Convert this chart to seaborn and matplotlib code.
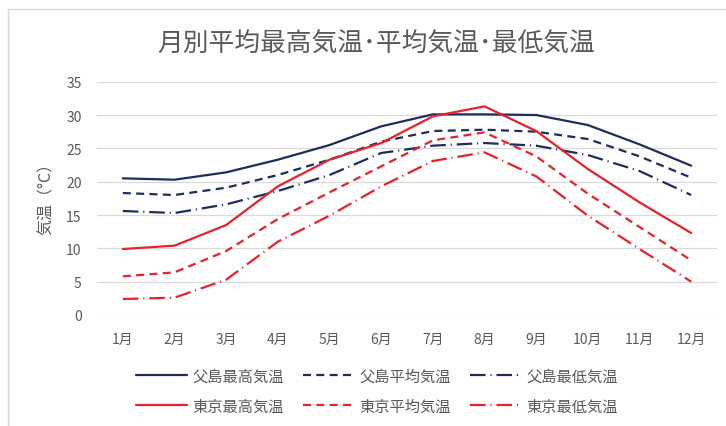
import pandas as pd
import matplotlib
matplotlib.use('Agg')
import matplotlib.pyplot as plt
from matplotlib.patches import Rectangle
import seaborn as sns

# データ
meses = ['1月', '2月', '3月', '4月', '5月', '6月', '7月', '8月', '9月', '10月', '11月', '12月']

chichijima_max = [20.5, 20.3, 21.4, 23.3, 25.5, 28.3, 30.1, 30.1, 30.0, 28.5, 25.6, 22.4]
chichijima_avg = [18.3, 18.0, 19.1, 21.0, 23.3, 26.0, 27.6, 27.8, 27.5, 26.4, 23.8, 20.6]
chichijima_min = [15.6, 15.3, 16.6, 18.6, 21.0, 24.3, 25.4, 25.8, 25.4, 24.0, 21.6, 18.0]

tokyo_max = [9.9, 10.4, 13.5, 19.3, 23.3, 25.8, 29.8, 31.3, 27.6, 21.9, 16.9, 12.3]
tokyo_avg = [5.8, 6.4, 9.6, 14.4, 18.4, 22.3, 26.2, 27.4, 23.8, 18.2, 13.2, 8.2]
tokyo_min = [2.4, 2.6, 5.3, 11.0, 14.9, 19.3, 23.1, 24.4, 20.8, 14.9, 9.9, 5.0]

series = {
    '父島最高気温': chichijima_max,
    '父島平均気温': chichijima_avg,
    '父島最低気温': chichijima_min,
    '東京最高気温': tokyo_max,
    '東京平均気温': tokyo_avg,
    '東京最低気温': tokyo_min,
}

navy = '#1f2d5c'
red = '#e8222a'
cinza = '#595959'

estilos = {
    '父島最高気温': (navy, '-'),
    '父島平均気温': (navy, (0, (3.6, 2.4))),
    '父島最低気温': (navy, (0, (7, 2.2, 0.5, 2.2))),
    '東京最高気温': (red, '-'),
    '東京平均気温': (red, (0, (3.6, 2.4))),
    '東京最低気温': (red, (0, (7, 2.2, 0.5, 2.2))),
}

sns.set_theme(style='white')
plt.rcParams['font.family'] = ['Noto Sans CJK JP', 'DejaVu Sans']

fig = plt.figure(figsize=(7.26, 4.27), dpi=100)
ax = fig.add_axes([97 / 726, 111 / 427, 620 / 726, 233.3 / 427])

x = list(range(len(meses)))
for nome, valores in series.items():
    cor, ls = estilos[nome]
    sns.lineplot(x=x, y=valores, ax=ax, color=cor, linestyle=ls, linewidth=1.6, label=nome)

ax.set_xlim(-0.5, len(meses) - 0.5)
ax.set_ylim(0, 35)
ax.set_yticks(range(0, 36, 5))
ax.set_xticks(x)
ax.set_xticklabels(meses)
ax.grid(axis='y', color='#d9d9d9', linewidth=0.9)
ax.grid(axis='x', visible=False)
for s in ax.spines.values():
    s.set_visible(False)
ax.tick_params(axis='both', colors=cinza, labelsize=10, length=0)
ax.tick_params(axis='x', pad=12)
ax.tick_params(axis='y', pad=11)
ax.set_ylabel('気温（°C）', color=cinza, fontsize=11.5)
ax.yaxis.set_label_coords(-0.068, 0.52)
ax.set_xlabel('')

# titulo
fig.text(376 / 726, 1 - 45 / 427, '月別平均最高気温･平均気温･最低気温',
         ha='center', va='center', fontsize=18.5, color=cinza)

# legenda em 2 linhas
handles, labels = ax.get_legend_handles_labels()
ordem = [0, 3, 1, 4, 2, 5]
ax.legend([handles[i] for i in ordem], [labels[i] for i in ordem],
          ncol=3, loc='center', bbox_to_anchor=(377 / 726, 1 - 392 / 427),
          bbox_transform=fig.transFigure, frameon=False, fontsize=11,
          handlelength=3.3, handletextpad=0.35, columnspacing=1.3,
          labelspacing=0.85, labelcolor=cinza)

# borda do grafico
fig.patches.append(Rectangle((8 / 726, -0.1), 1.2, 1 - 10 / 427 + 0.1,
                             transform=fig.transFigure, fill=False,
                             edgecolor='#d9d9d9', linewidth=1))

fig.savefig('out.png', dpi=100)
